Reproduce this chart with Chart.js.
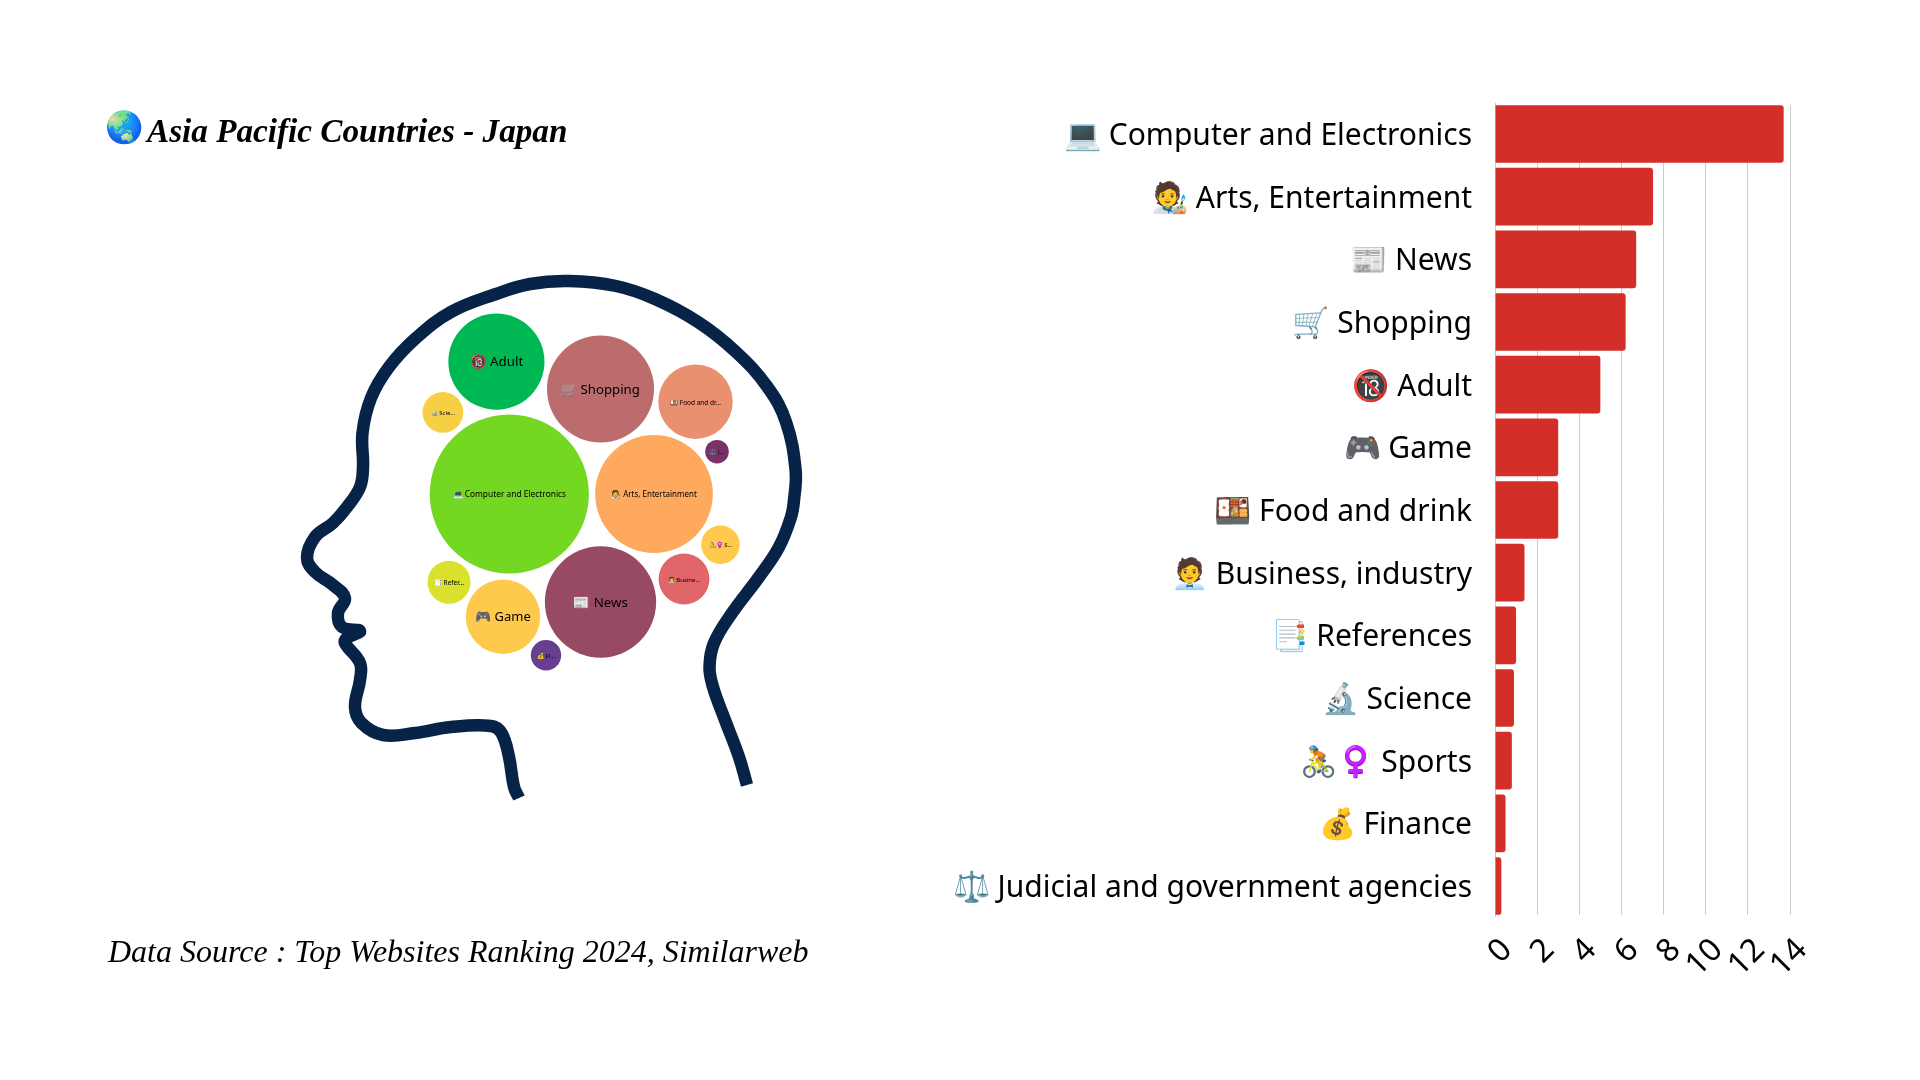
<!DOCTYPE html>
<html><head><meta charset="utf-8">
<script src="https://cdn.jsdelivr.net/npm/chart.js@4"></script>
<style>
html,body{margin:0;padding:0;width:1920px;height:1080px;background:#fff;overflow:hidden}
canvas{position:absolute;top:0}
#wrapL{position:absolute;left:0;top:0;width:960px;height:1080px}
#wrapR{position:absolute;left:900px;top:0;width:1020px;height:1080px}
.t{position:absolute;white-space:nowrap;font-family:"Liberation Serif",serif;font-style:italic;color:#000}
#globe{left:105px;top:109px;font-size:31px;font-style:normal}
#title{left:147px;top:112px;font-size:33.2px;font-weight:700}
#source{left:108px;top:933px;font-size:32px}
</style></head><body>
<div id="wrapL"><canvas id="bub" width="960" height="1080"></canvas></div>
<div id="wrapR"><canvas id="bar" width="1020" height="1080"></canvas></div>
<div class="t" id="globe">🌏</div>
<div class="t" id="title">Asia Pacific Countries - Japan</div>
<div class="t" id="source">Data Source : Top Websites Ranking 2024, Similarweb</div>
<script>
const categories=["Computer and Electronics","Arts, Entertainment","News","Shopping","Adult","Game","Food and drink","Business, industry","References","Science","Sports","Finance","Judicial and government agencies"];
const emojis=["💻","🧑‍🎨","📰","🛒","🔞","🎮","🍱","🧑‍💼","📑","🔬","🚴♀️","💰","⚖️"];
const values=[13.7,7.5,6.7,6.2,5,3,3,1.4,1,0.9,0.8,0.5,0.3];
const xTicks=[0,2,4,6,8,10,12,14];
const bubbleNames=["Computer and Electronics","Arts, Entertainment","News","Shopping","Adult","Game","Food and dr...","Busine...","Refer...","Scie...","S...","Fi...","J..."];
const bubbleX=[509.3,654,600.5,600.5,496.4,503,695.5,684,449,442.9,720.5,546,717];
const bubbleY=[494,494,602,389,361.7,616.7,401.7,579,582.3,412.3,544.7,655.3,451.7];
const bubbleColors=["#74D823","#FFA95E","#994A63","#BC6C6C","#00B853","#FFC94B","#EA8F70","#E0666A","#D9E12C","#F7CF45","#FFC94B","#673F8F","#793267"];
const bubbleFont=[8.4,8,13.3,13.2,13.3,13,6.5,6,6.5,6,6,6,6];
const headX=[747,739,725,713,709.5,714,732,759,779,791,794,795.6,786,767.5,736,698,655,616,569,530,496,451,416,389,371,362.5,363,360,347,333,315,307,315,333,345,338,342,360,347,345,360,360,355,361.5,383,415,451,491,501.5,509,514,519];
const headY=[785,757,720,687,667,643,613,577,547,517,500,470,422,387,352,322,299,286,281,284,294,312,338,367,398,433,467,487,507,523,537,558,572,585,598,613,627,631,638,643,663,680,707,723,735,733,727,726,733,757,787,798];
const radiusFactor=21.5;
const barColor="#D32F28", headColor="#082348", gridColor="#CCCCCC";
const fontFam='"Noto Sans",sans-serif';

const bubbleLabels={id:'bubbleLabels',afterDatasetsDraw(c){
  const m=c.getDatasetMeta(0),x=c.ctx;x.save();x.textAlign='center';x.textBaseline='middle';x.fillStyle='#000';
  m.data.forEach((el,i)=>{x.font=bubbleFont[i]+'px '+fontFam;x.fillText(emojis[i]+' '+bubbleNames[i],el.x,el.y+1);});
  x.restore();}};
new Chart(document.getElementById('bub'),{type:'bubble',plugins:[bubbleLabels],
 data:{datasets:[
  {data:values.map((v,i)=>({x:bubbleX[i],y:bubbleY[i],v})),backgroundColor:bubbleColors,borderWidth:0,
   radius:c=>radiusFactor*Math.sqrt(values[c.dataIndex]),order:1},
  {type:'line',data:headX.map((x,i)=>({x,y:headY[i]})),borderColor:headColor,borderWidth:12.5,pointRadius:0,tension:0.4,borderCapStyle:'butt',borderJoinStyle:'round',fill:false,order:2}
 ]},
 options:{responsive:false,animation:false,events:[],layout:{padding:0,autoPadding:false},
  plugins:{legend:{display:false},tooltip:{enabled:false}},
  scales:{x:{type:'linear',display:false,min:0,max:960},y:{type:'linear',display:false,min:0,max:1080,reverse:true}}}});

const gridMask={id:'gridMask',beforeDatasetsDraw(c){const a=c.chartArea,x=c.ctx;x.save();x.fillStyle='#fff';
  x.fillRect(a.left+1,a.top-1,a.width+2,3.5);x.fillRect(a.left+1,a.bottom-2.4,a.width+2,4);x.restore();}};
new Chart(document.getElementById('bar'),{type:'bar',plugins:[gridMask],
 data:{labels:categories.map((c,i)=>emojis[i]+' '+c),datasets:[{data:values,backgroundColor:barColor,barPercentage:0.92,categoryPercentage:1,
   borderRadius:{topRight:3,bottomRight:3,topLeft:0,bottomLeft:0},borderSkipped:false}]},
 options:{indexAxis:'y',responsive:false,animation:false,events:[],
  layout:{padding:{top:102.65,right:130,bottom:0,left:0},autoPadding:false},
  plugins:{legend:{display:false},tooltip:{enabled:false}},
  scales:{
   x:{type:'linear',min:0,max:14,afterBuildTicks:s=>{s.ticks=xTicks.map(value=>({value}));},
      afterFit:s=>{s.height=162.65;},
      grid:{color:gridColor,drawTicks:false},border:{display:false},
      ticks:{minRotation:45,maxRotation:45,autoSkip:false,padding:14,labelOffset:12,color:'#000',font:{family:fontFam,size:32}}},
   y:{afterFit:s=>{s.width=595;},grid:{display:false,drawTicks:false},border:{display:false},
      ticks:{padding:23,labelOffset:2.5,color:'#000',autoSkip:false,font:{family:fontFam,size:30}}}
  }}});
</script></body></html>
